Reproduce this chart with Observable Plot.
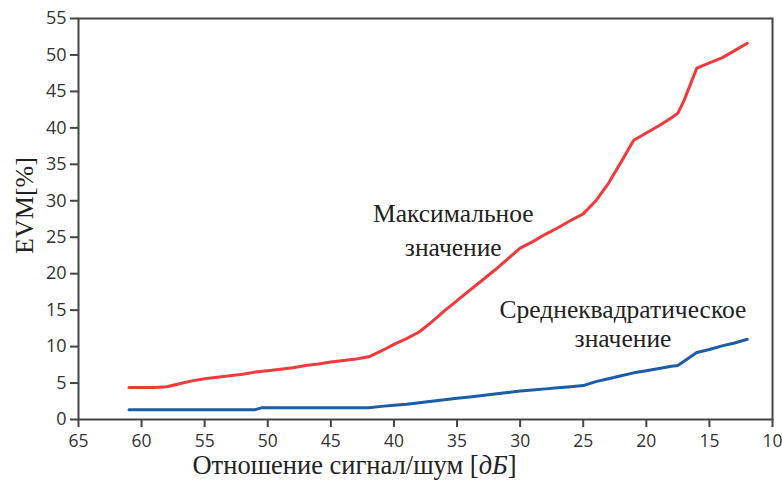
<!DOCTYPE html>
<html>
<head>
<meta charset="utf-8">
<script src="https://cdn.jsdelivr.net/npm/d3@7"></script>
<script src="https://cdn.jsdelivr.net/npm/@observablehq/plot@0.6"></script>
<style>
  html, body { margin: 0; padding: 0; background: #fff; }
  #chart { width: 782px; height: 488px; }
</style>
</head>
<body>
<div id="chart"></div>
<script>
// Signal-to-noise ratio, dB
const snrMax = [61, 60, 59, 58, 57, 56, 55, 54, 53, 52, 51, 50, 49, 48, 47, 46, 45, 44, 43, 42, 41, 40, 39, 38, 37, 36, 35, 34, 33, 32, 31, 30, 29, 28, 27, 26, 25, 24, 23, 22, 21, 20, 19, 18, 17.5, 17, 16, 15, 14, 13, 12];
// Maximum EVM, %
const evmMax = [4.4, 4.4, 4.4, 4.5, 4.9, 5.3, 5.6, 5.8, 6.0, 6.2, 6.5, 6.7, 6.9, 7.1, 7.4, 7.6, 7.9, 8.1, 8.3, 8.6, 9.4, 10.3, 11.1, 12.0, 13.4, 14.9, 16.3, 17.7, 19.1, 20.5, 22.0, 23.5, 24.4, 25.4, 26.3, 27.3, 28.2, 30.0, 32.4, 35.3, 38.3, 39.3, 40.3, 41.4, 42.0, 43.8, 48.2, 48.9, 49.6, 50.6, 51.6];

const snrRms = [61, 55, 51, 50.5, 46, 42, 41, 40, 39, 38, 37, 36, 35, 34, 33, 32, 31, 30, 29, 28, 27, 26, 25, 24, 23, 22, 21, 20, 19, 18, 17.5, 16, 15, 14, 13, 12];
// RMS EVM, %
const evmRms = [1.35, 1.35, 1.35, 1.6, 1.6, 1.6, 1.8, 1.95, 2.1, 2.3, 2.5, 2.7, 2.9, 3.1, 3.3, 3.5, 3.7, 3.9, 4.05, 4.2, 4.35, 4.5, 4.65, 5.2, 5.6, 6.0, 6.4, 6.7, 7.0, 7.3, 7.4, 9.2, 9.6, 10.1, 10.5, 11.0];

const xTicks = [65, 60, 55, 50, 45, 40, 35, 30, 25, 20, 15, 10];
const yTicks = [0, 5, 10, 15, 20, 25, 30, 35, 40, 45, 50, 55];

const annText = ["Максимальное", "значение", "Среднеквадратическое", "значение"];
const annX = [35.3, 35.3, 21.85, 21.85];
const annY = [28.15, 23.5, 15.0, 11.0];

const xLabel = "Отношение сигнал/шум [дБ]";
const yLabel = "EVM[%]";

const maxData = snrMax.map((s, i) => ({snr: s, evm: evmMax[i]}));
const rmsData = snrRms.map((s, i) => ({snr: s, evm: evmRms[i]}));
const annData = annText.map((t, i) => ({t, x: annX[i], y: annY[i]}));

const tickFont = "'Open Sans', 'Noto Sans', sans-serif";
const serif = "'Liberation Serif', 'DejaVu Serif', serif";

const chart = Plot.plot({
  width: 782,
  height: 488,
  marginLeft: 78,
  marginRight: 10,
  marginTop: 18,
  marginBottom: 69,
  style: {background: "#fff", color: "#333"},
  x: {domain: [65, 10], label: null},
  y: {domain: [0, 55], label: null},
  marks: [
    Plot.axisX({ticks: xTicks, tickSize: 8, tickPadding: 7, fontSize: 17.5, fontFamily: tickFont, stroke: "#444", strokeWidth: 2, fill: "#333", label: null}),
    Plot.axisY({ticks: yTicks, tickSize: 8, tickPadding: 4, fontSize: 18, fontFamily: tickFont, stroke: "#444", strokeWidth: 2, fill: "#333", label: null}),
    Plot.line(maxData, {x: "snr", y: "evm", stroke: "#f23a3c", strokeWidth: 3}),
    Plot.line(rmsData, {x: "snr", y: "evm", stroke: "#1d5ca6", strokeWidth: 3}),
    Plot.text(annData, {x: "x", y: "y", text: "t", fontSize: 25.5, fontFamily: serif, fill: "#222"}),
    Plot.text([xLabel], {frameAnchor: "bottom", lineAnchor: "middle", textAnchor: "middle", dx: -71, dy: 46.5, fontSize: 26.5, fontFamily: serif, fill: "#222"}),
    Plot.text([yLabel], {frameAnchor: "left", lineAnchor: "middle", textAnchor: "middle", dx: -54, dy: -13.5, rotate: -90, fontSize: 26, fontFamily: serif, fill: "#222"}),
    Plot.frame({stroke: "#444", strokeWidth: 2})
  ]
});

// italic units in the x label
d3.select(chart).selectAll("text").filter(function() { return this.textContent === xLabel; })
  .each(function() {
    const t = d3.select(this);
    t.text(null);
    t.append("tspan").text("Отношение сигнал/шум [");
    t.append("tspan").attr("font-style", "italic").text("дБ");
    t.append("tspan").text("]");
  });

document.getElementById("chart").appendChild(chart);
</script>
</body>
</html>
